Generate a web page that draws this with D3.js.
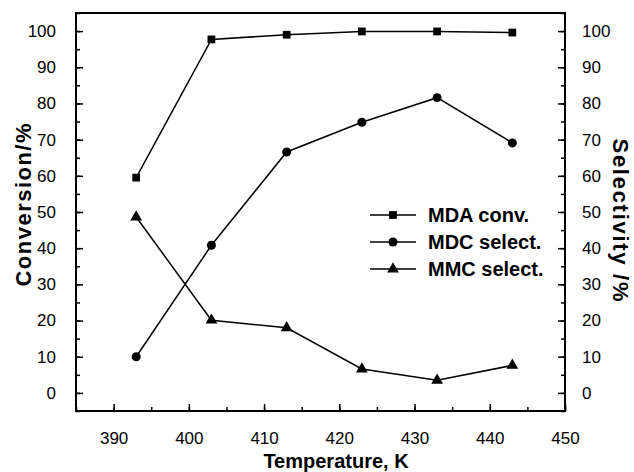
<!DOCTYPE html>
<html>
<head>
<meta charset="utf-8">
<script src="https://cdn.jsdelivr.net/npm/d3@7"></script>
<style>
  body { margin: 0; background: #fff; }
  text { font-family: "Liberation Sans", Arial, sans-serif; fill: #000; }
</style>
</head>
<body>
<svg id="chart" width="634" height="472"></svg>
<script>
"use strict";

// data
const temps = [393, 403, 413, 423, 433, 443]
const mdaConv = [59.5, 97.7, 99.0, 99.9, 99.9, 99.6]
const mdcSelect = [10.0, 40.8, 66.6, 74.8, 81.6, 69.1]
const mmcSelect = [48.6, 20.1, 18.0, 6.6, 3.5, 7.6]
const seriesNames = ["MDA conv.", "MDC select.", "MMC select."]
const xTicks = [390, 400, 410, 420, 430, 440, 450]
const yTicks = [0, 10, 20, 30, 40, 50, 60, 70, 80, 90, 100]

const margin = {left: 76, top: 13, right: 69, bottom: 61}
const W = 634, H = 472
const innerW = W - margin.left - margin.right
const innerH = H - margin.top - margin.bottom

let svg = d3.select("#chart")
let g = svg.append("g").attr("transform", "translate(" + margin.left + "," + margin.top + ")")

let x = d3.scaleLinear().domain([385, 450]).range([0, innerW])
let y = d3.scaleLinear().domain([-5, 105]).range([innerH, 0])

// minor ticks every 5
let xMinor = d3.range(385, 451, 5)
let yMinor = d3.range(-5, 106, 5)

function styleAxis(sel){
  sel.select(".domain").remove()
  sel.selectAll(".tick line").attr("stroke", "#000").attr("stroke-width", 1.5)
  sel.selectAll(".tick text").attr("font-size", "17px").attr("font-family", "Liberation Sans, Arial, sans-serif")
}

// bottom axis
g.append("g").attr("transform", "translate(0," + innerH + ")")
  .call(d3.axisBottom(x).tickValues(xMinor).tickSize(-4).tickFormat(""))
  .call(styleAxis)
g.append("g").attr("transform", "translate(0," + innerH + ")")
  .call(d3.axisBottom(x).tickValues(xTicks).tickSize(-7).tickPadding(21).tickFormat(d3.format("d")))
  .call(styleAxis)

// left axis
g.append("g")
  .call(d3.axisLeft(y).tickValues(yMinor).tickSize(-4).tickFormat(""))
  .call(styleAxis)
g.append("g")
  .call(d3.axisLeft(y).tickValues(yTicks).tickSize(-7).tickPadding(20).tickFormat(d3.format("d")))
  .call(styleAxis)

// right axis
g.append("g").attr("transform", "translate(" + innerW + ",0)")
  .call(d3.axisRight(y).tickValues(yMinor).tickSize(-4).tickFormat(""))
  .call(styleAxis)
g.append("g").attr("transform", "translate(" + innerW + ",0)")
  .call(d3.axisRight(y).tickValues(yTicks).tickSize(-7).tickPadding(17).tickFormat(d3.format("d")))
  .call(styleAxis)

// frame
g.append("rect")
  .attr("x", 0).attr("y", 0)
  .attr("width", innerW).attr("height", innerH)
  .attr("fill", "none").attr("stroke", "#000").attr("stroke-width", 2)

// series
let series = [
  {name: seriesNames[0], values: mdaConv, shape: d3.symbolSquare, size: 60},
  {name: seriesNames[1], values: mdcSelect, shape: d3.symbolCircle, size: 64},
  {name: seriesNames[2], values: mmcSelect, shape: d3.symbolTriangle, size: 60}
]

let line = d3.line()
  .x(d => x(d[0]))
  .y(d => y(d[1]))

series.forEach(s => {
  let pts = temps.map((t, i) => [t, s.values[i]])
  g.append("path")
    .attr("d", line(pts))
    .attr("fill", "none")
    .attr("stroke", "#000")
    .attr("stroke-width", 1.5)
  g.selectAll(null).data(pts).enter()
    .append("path")
    .attr("transform", d => "translate(" + x(d[0]) + "," + y(d[1]) + ")")
    .attr("d", d3.symbol().type(s.shape).size(s.size))
    .attr("fill", "#000")
})

// legend
let legend = svg.append("g").attr("transform", "translate(370,215)")
series.forEach((s, i) => {
  let row = legend.append("g").attr("transform", "translate(0," + (i * 27) + ")")
  row.append("line")
    .attr("x1", 0).attr("x2", 46)
    .attr("y1", 0).attr("y2", 0)
    .attr("stroke", "#000").attr("stroke-width", 1.5)
  row.append("path")
    .attr("transform", "translate(23,0)")
    .attr("d", d3.symbol().type(s.shape).size(s.size))
    .attr("fill", "#000")
  row.append("text")
    .attr("x", 58).attr("y", 7)
    .attr("font-size", "20px")
    .attr("font-weight", "bold")
    .text(s.name)
})

// axis titles
svg.append("text")
  .attr("x", 336)
  .attr("y", 468)
  .attr("text-anchor", "middle")
  .attr("font-size", "20px")
  .attr("font-weight", "bold")
  .text("Temperature, K")

svg.append("text")
  .attr("transform", "translate(31,205) rotate(-90)")
  .attr("text-anchor", "middle")
  .attr("font-size", "22px")
  .attr("font-weight", "bold")
  .attr("textLength", 163)
  .attr("lengthAdjust", "spacing")
  .text("Conversion/%")

svg.append("text")
  .attr("transform", "translate(613,220) rotate(90)")
  .attr("text-anchor", "middle")
  .attr("font-size", "22px")
  .attr("font-weight", "bold")
  .attr("textLength", 163)
  .attr("lengthAdjust", "spacing")
  .text("Selectivity /%")
</script>
</body>
</html>
